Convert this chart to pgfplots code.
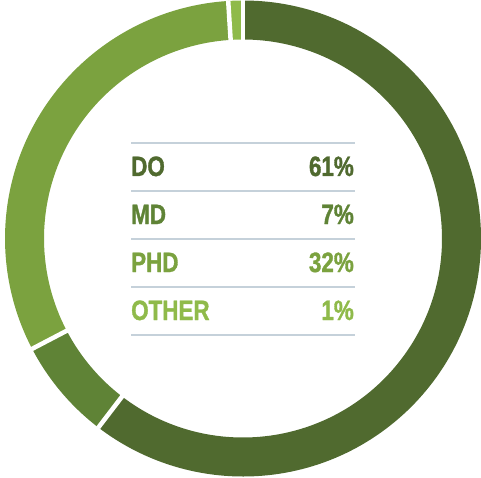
\documentclass[border=0pt]{standalone}
\usepackage{pgfplots}
\pgfplotsset{compat=1.18}
\usepackage{pgfplotstable}
\usepackage{fontspec}
\newfontfamily\labfont[FakeStretch=0.8, BoldFeatures={FakeBold=1.2}]{Liberation Sans}
\definecolor{c0}{HTML}{506A2F}
\definecolor{c1}{HTML}{5F8336}
\definecolor{c2}{HTML}{7BA23F}
\definecolor{c3}{HTML}{8FBA4A}
\definecolor{rule}{HTML}{C5D1DA}

\pgfplotstableread{
label value
DO 61
MD 7
PHD 32
OTHER 1
}\datatable

% total
\gdef\total{0}
\pgfplotstableforeachcolumnelement{value}\of\datatable\as\v{%
  \pgfmathsetmacro\tmp{\total+\v}\xdef\total{\tmp}}
% cumulative angles (clockwise from top)
\gdef\cum{0}
\pgfplotstableforeachcolumnelement{value}\of\datatable\as\v{%
  \pgfmathsetmacro\sa{90-\cum/\total*360}%
  \pgfmathsetmacro\newcum{\cum+\v}%
  \pgfmathsetmacro\ea{90-\newcum/\total*360}%
  \expandafter\xdef\csname sa\pgfplotstablerow\endcsname{\sa}%
  \expandafter\xdef\csname ea\pgfplotstablerow\endcsname{\ea}%
  \xdef\cum{\newcum}}

\begin{document}
\begin{tikzpicture}
\begin{axis}[
  at={(0,0)}, anchor=south west,
  scale only axis, width=481pt, height=477pt,
  xmin=0, xmax=481, ymin=0, ymax=477,
  hide axis, clip=false]
\pgfplotsinvokeforeach{0,...,3}{%
  \edef\temp{\noexpand\fill[c#1, shift={(axis cs:243,238.5)}]
    (\csname sa#1\endcsname:238pt)
    arc[start angle=\csname sa#1\endcsname, end angle=\csname ea#1\endcsname, radius=238pt]
    -- (\csname ea#1\endcsname:199pt)
    arc[start angle=\csname ea#1\endcsname, end angle=\csname sa#1\endcsname, radius=199pt]
    -- cycle;}\temp
}
\pgfplotsinvokeforeach{0,...,3}{%
  \edef\temp{\noexpand\draw[white, line width=4.5pt, shift={(axis cs:243,238.5)}]
    (\csname sa#1\endcsname:197pt) -- (\csname sa#1\endcsname:238.4pt);}\temp
}
% table rules
\foreach \yy in {334,286,238,190,142}{
  \edef\temp{\noexpand\draw[rule, line width=1.8pt] (axis cs:131,\yy) -- (axis cs:355,\yy);}\temp
}
% labels
\tikzset{lab/.style={inner sep=0pt, font=\labfont\bfseries\fontsize{28}{28}\selectfont}}
\node[lab, anchor=base west, text=c0] at (axis cs:131,301) {DO};
\node[lab, anchor=base east, text=c0] at (axis cs:354,301) {61\%};
\node[lab, anchor=base west, text=c1] at (axis cs:131,253) {MD};
\node[lab, anchor=base east, text=c1] at (axis cs:354,253) {7\%};
\node[lab, anchor=base west, text=c2] at (axis cs:131,205) {PHD};
\node[lab, anchor=base east, text=c2] at (axis cs:354,205) {32\%};
\node[lab, anchor=base west, text=c3] at (axis cs:131,157) {OTHER};
\node[lab, anchor=base east, text=c3] at (axis cs:354,157) {1\%};
\end{axis}
\pgfresetboundingbox
\path[use as bounding box] (0,0) rectangle (481pt,477pt);
\end{tikzpicture}
\end{document}
